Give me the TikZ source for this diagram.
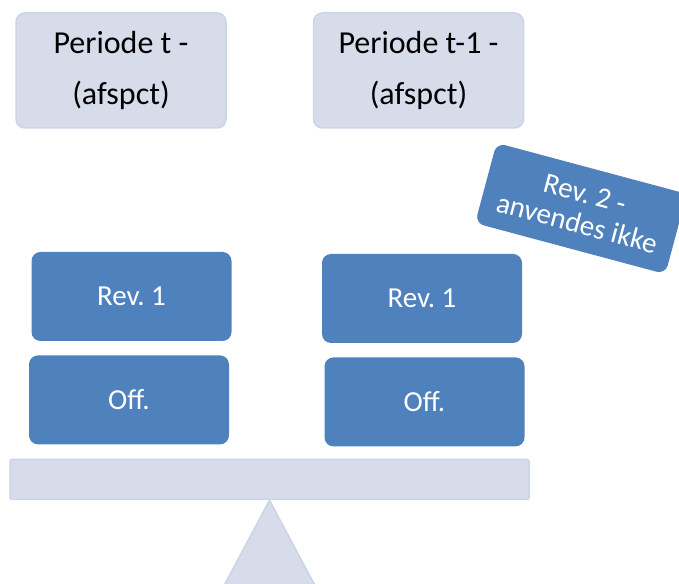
\documentclass[tikz,border=0pt]{standalone}
\usepackage{fontspec}
\setmainfont{Carlito}
\usetikzlibrary{positioning}
\definecolor{lightbox}{HTML}{D6DCE9}
\definecolor{lightedge}{HTML}{CCD4E5}
\definecolor{darkbox}{HTML}{4F81BD}
\frenchspacing

\begin{document}
\begin{tikzpicture}[
		x=1pt, y=1pt,
		node distance=14pt,
		periodbox/.style={draw=lightedge, line width=1.5pt, fill=lightbox, rounded corners=9pt, minimum width=210pt, minimum height=115pt, inner sep=0pt, align=center, font=\fontsize{32}{51}\selectfont},
		revbox/.style={fill=darkbox, rounded corners=9pt, minimum width=200pt, minimum height=89pt, inner sep=0pt, align=center, text=white, font=\fontsize{29}{31}\selectfont},
	]
		\useasboundingbox (0,0) rectangle (679,583);
		\clip (0,0) rectangle (679,583);

		\node (pert) [periodbox] at (121,512.5) {Periode t -\\(afspct)};
		\node (pertm) [periodbox, right=86pt of pert] {Periode t-1 -\\(afspct)};

		\node (revl) [revbox] at (131.5,286.5) {Rev. 1};
		\node (offl) [revbox, below=of revl, xshift=-2.5pt] {Off.};
		\node (revr) [revbox] at (422,284.5) {Rev. 1};
		\node (offr) [revbox, below=of revr, xshift=2.5pt] {Off.};

		\node (rev2) [revbox, rotate=-15, minimum width=197pt, minimum height=83pt] at (581,374.5) {Rev. 2 -\\anvendes ikke};

		% vippe
		\node (beam) [draw=lightedge, line width=1.5pt, fill=lightbox, rounded corners=2pt, minimum width=519pt, minimum height=40pt, inner sep=0pt] at (269.5,103.5) {};
		\filldraw[draw=lightedge, line width=1.5pt, fill=lightbox] (beam.south) -- ++(-64,-120) -- ++(128,0) -- cycle;
	\end{tikzpicture}
\end{document}
